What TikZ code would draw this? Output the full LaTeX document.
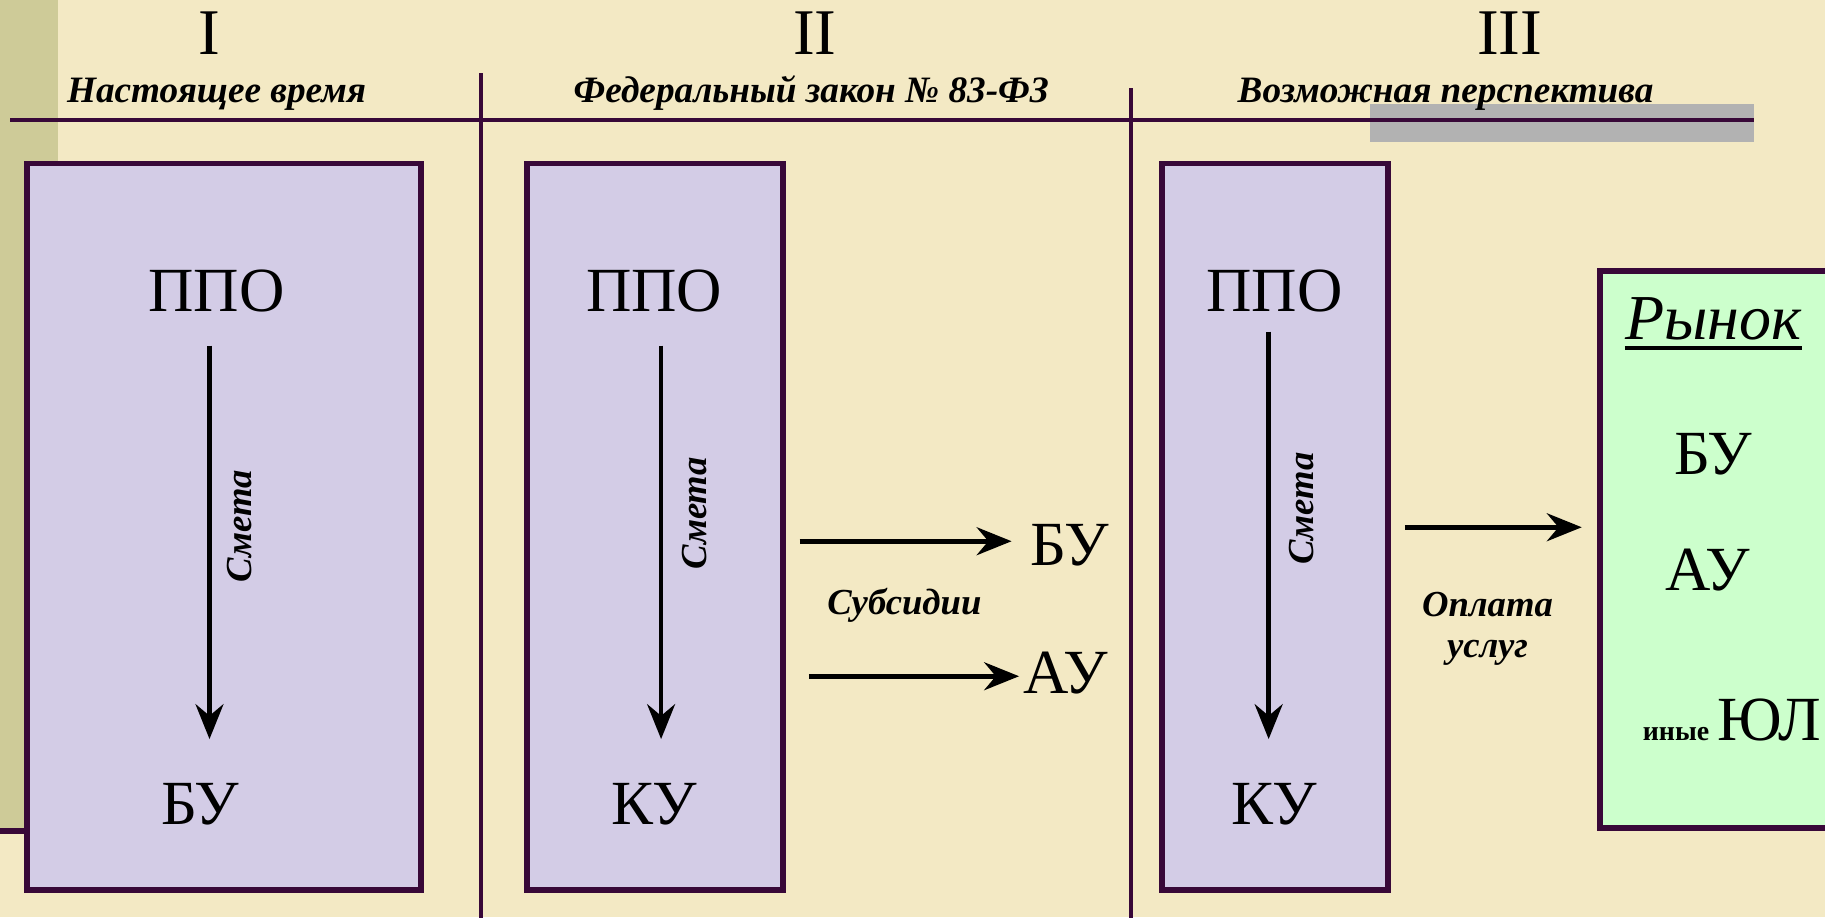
\documentclass[tikz,border=0pt]{standalone}
\usepackage{fontspec}
\setmainfont{Liberation Serif}
\usetikzlibrary{arrows.meta}
\definecolor{bgc}{HTML}{F3E9C4}
\definecolor{olivec}{HTML}{CECB98}
\definecolor{edgec}{HTML}{380838}
\definecolor{lavc}{HTML}{D3CCE6}
\definecolor{greenc}{HTML}{CCFFCC}
\definecolor{grayc}{HTML}{B2B2B2}
\tikzset{
  divider/.style={edgec, line width=3.5pt},
  boxstyle/.style={draw=edgec, line width=5pt, inner sep=0pt},
  big/.style={font=\fontsize{54}{60}\selectfont, inner sep=0pt, anchor=base},
  roman/.style={font=\fontsize{56}{60}\selectfont, inner sep=0pt, anchor=base},
  head/.style={font=\bfseries\itshape\fontsize{32}{36}\selectfont, inner sep=0pt, anchor=base},
  lab/.style={font=\bfseries\itshape\fontsize{31.5}{36}\selectfont, inner sep=0pt, anchor=base},
  smeta/.style={font=\bfseries\itshape\fontsize{31.5}{36}\selectfont, inner sep=0pt, rotate=90},
  arrowline/.style={line width=4pt, -{Stealth[length=30pt, width=24pt, inset=10pt]}}
}
\begin{document}
\begin{tikzpicture}[x=1pt,y=-1pt]
\fill[bgc] (0,0) rectangle (1568,788);
\useasboundingbox (0,0) rectangle (1568,788);
\fill[olivec] (0,0) rectangle (50,712);
\fill[grayc] (1177,89) rectangle (1507,122);
\coordinate (strL) at (0,714);
\coordinate (strR) at (24,714);
\draw[divider, line width=5pt] (strL) -- (strR);
\coordinate (hL) at (9,103);
\coordinate (hR) at (1507,103);
\draw[divider] (hL) -- (hR);
\coordinate (v1t) at (413,63);
\coordinate (v1b) at (413,790);
\draw[divider] (v1t) -- (v1b);
\coordinate (v2t) at (972,76);
\coordinate (v2b) at (972,790);
\draw[divider] (v2t) -- (v2b);

% headings
\node[roman] (r1) at (180,47) {I};
\node[roman] (r2) at (700,47) {II};
\node[roman] (r3) at (1297,47) {III};
\node[head] (h1) at (186,88) {Настоящее время};
\node[head] (h2) at (697,88) {Федеральный закон № 83-ФЗ};
\node[head] (h3) at (1242,88) {Возможная перспектива};

% boxes
\node[boxstyle, fill=lavc, minimum width=339pt, minimum height=624pt] (b1) at (192.5,452.5) {};
\node[boxstyle, fill=lavc, minimum width=220pt, minimum height=624pt] (b2) at (562.5,452.5) {};
\node[boxstyle, fill=lavc, minimum width=194pt, minimum height=624pt] (b3) at (1095.5,452.5) {};
\node[boxstyle, fill=greenc, minimum width=205pt, minimum height=479pt] (b4) at (1477,472) {};

% box 1
\node[big] (ppo1) at (186,268) {ППО};
\node[big] (bu1) at (172,708) {БУ};
\coordinate (a1s) at (180,297);
\coordinate (a1e) at (180,635);
\draw[arrowline] (a1s) -- (a1e);
\node[smeta] (sm1) at (206,452) {Смета};

% box 2
\node[big] (ppo2) at (562,268) {ППО};
\node[big] (ku2) at (562,708) {КУ};
\coordinate (a2s) at (568,297);
\coordinate (a2e) at (568,635);
\draw[arrowline] (a2s) -- (a2e);
\node[smeta] (sm2) at (597,441) {Смета};

% subsidies
\node[big] (bu2) at (919,486) {БУ};
\node[big] (au2) at (916,596) {АУ};
\coordinate (s1s) at (687,465);
\coordinate (s2s) at (695,581);
\draw[arrowline] (s1s) -- ([xshift=-16pt]bu2.west |- s1s);
\draw[arrowline] (s2s) -- ([xshift=-4pt]au2.west |- s2s);
\node[lab] (sub) at (777,528) {Субсидии};

% box 3
\node[big] (ppo3) at (1095,268) {ППО};
\node[big] (ku3) at (1095,708) {КУ};
\coordinate (a3s) at (1090,285);
\coordinate (a3e) at (1090,635);
\draw[arrowline] (a3s) -- (a3e);
\node[smeta] (sm3) at (1118,437) {Смета};

% payment
\coordinate (ps) at (1207,453);
\draw[arrowline] (ps) -- ([xshift=-13pt]b4.west |- ps);
\node[lab] (opl1) at (1278,530) {Оплата};
\node[lab] (opl2) at (1278,565) {услуг};

% market
\node[font=\itshape\fontsize{55}{60}\selectfont, inner sep=0pt, anchor=base] (ryn) at (1472,292) {Рынок};
\draw[line width=4pt, black] ([yshift=-7pt]ryn.base west) -- ([yshift=-7pt]ryn.base east);
\node[big] (bu4) at (1472,408) {БУ};
\node[big] (au4) at (1467,507) {АУ};
\node[font=\bfseries\fontsize{24}{28}\selectfont, inner sep=0pt, anchor=base] (iny) at (1440,636) {иные};
\node[big] (yul) at (1520,636) {ЮЛ};
\end{tikzpicture}
\end{document}
